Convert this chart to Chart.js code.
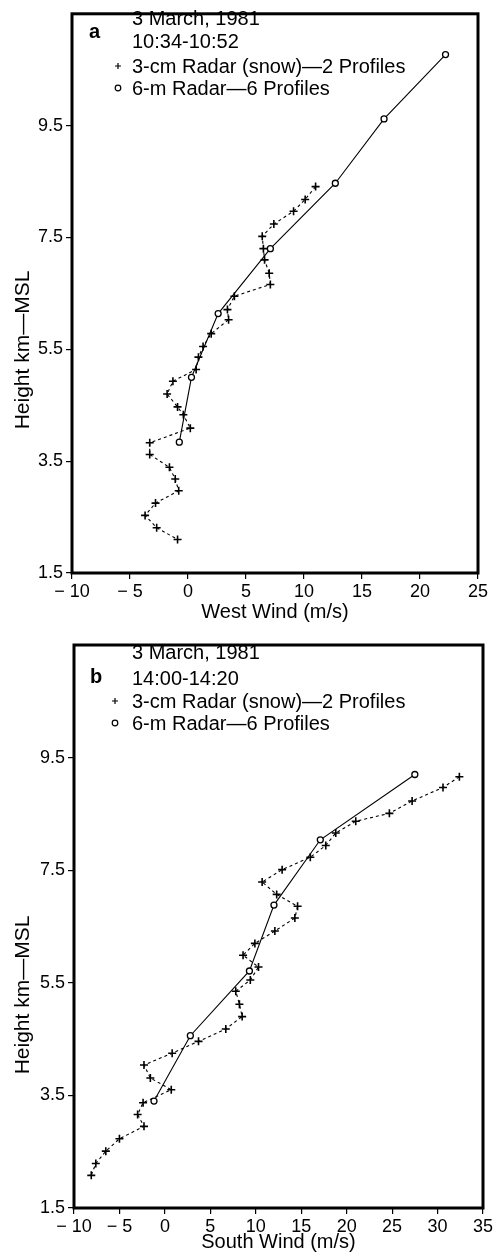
<!DOCTYPE html>
<html>
<head>
<meta charset="utf-8">
<script src="https://cdn.jsdelivr.net/npm/chart.js@4"></script>
<style>
  body { margin: 0; background: #fff; }
  canvas { position: absolute; left: 0; }
  #chartA { top: 0; }
  #chartB { top: 625px; }
</style>
</head>
<body>
<canvas id="chartA" width="496" height="625"></canvas>
<canvas id="chartB" width="496" height="630"></canvas>
<script>
// panel a - west wind, 10:34-10:52
const heightRadar3A = [8.41, 8.18, 7.97, 7.74, 7.52, 7.30, 7.10, 6.86, 6.66, 6.45, 6.21, 6.03, 5.78, 5.55, 5.36, 5.14, 4.93, 4.70, 4.47, 4.33, 4.09, 3.83, 3.62, 3.39, 3.18, 2.97, 2.75, 2.53, 2.31, 2.10];
const windRadar3A   = [11.0, 10.1, 9.1, 7.4, 6.4, 6.5, 6.6, 7.0, 7.1, 4.0, 3.4, 3.5, 2.0, 1.3, 0.9, 0.7, -1.3, -1.8, -0.9, -0.4, 0.2, -3.3, -3.3, -1.6, -1.1, -0.8, -2.8, -3.7, -2.7, -0.9];
const heightRadar6A = [10.77, 9.62, 8.47, 7.30, 6.14, 5.00, 3.84];
const windRadar6A   = [22.2, 16.9, 12.7, 7.1, 2.6, 0.3, -0.75];

// panel b - south wind, 14:00-14:20
const heightRadar3B = [9.16, 8.97, 8.73, 8.51, 8.37, 8.16, 7.94, 7.73, 7.51, 7.29, 7.07, 6.86, 6.65, 6.42, 6.20, 5.99, 5.78, 5.55, 5.35, 5.12, 4.90, 4.68, 4.46, 4.25, 4.04, 3.81, 3.60, 3.37, 3.16, 2.95, 2.73, 2.51, 2.29, 2.08];
const windRadar3B   = [32.4, 30.6, 27.2, 24.7, 21.0, 18.8, 17.7, 16.0, 12.9, 10.7, 12.3, 14.6, 14.3, 12.1, 9.9, 8.6, 10.3, 9.4, 7.8, 8.2, 8.5, 6.7, 3.7, 0.8, -2.3, -1.6, 0.7, -2.4, -3.0, -2.3, -5.0, -6.5, -7.6, -8.1];
const heightRadar6B = [9.20, 8.04, 6.88, 5.71, 4.56, 3.40];
const windRadar6B   = [27.5, 17.1, 12.0, 9.3, 2.8, -1.2];

const yTicks  = [1.5, 3.5, 5.5, 7.5, 9.5];
const xTicksA = [-10, -5, 0, 5, 10, 15, 20, 25];
const xTicksB = [-10, -5, 0, 5, 10, 15, 20, 25, 30, 35];
const seriesNames = ["3-cm Radar (snow)\u20142 Profiles", "6-m Radar\u20146 Profiles"];
const FONT = '"Liberation Sans", Arial, Helvetica, sans-serif';

function toPoints(xs, ys) {
  return xs.map((x, i) => ({ x: x, y: ys[i] }));
}

function fmtTick(v) {
  return v < 0 ? "\u2212 " + Math.abs(v) : String(v);
}

function decor(info) {
  return {
    id: "decor",
    afterDraw(chart) {
      const ctx = chart.ctx;
      const a = chart.chartArea;
      ctx.save();
      ctx.strokeStyle = "#000";
      ctx.lineWidth = 3;
      ctx.strokeRect(a.left, a.top, a.right - a.left, a.bottom - a.top);

      ctx.fillStyle = "#000";
      ctx.textAlign = "left";
      ctx.textBaseline = "alphabetic";
      ctx.font = "bold 20px " + FONT;
      ctx.fillText(info.letter, info.letterX, info.letterY);
      ctx.font = "20px " + FONT;
      ctx.fillText(info.date, 132, info.lines[0]);
      ctx.fillText(info.time, 132, info.lines[1]);
      ctx.fillText(seriesNames[0], 132, info.lines[2]);
      ctx.fillText(seriesNames[1], 132, info.lines[3]);

      // legend markers
      ctx.lineWidth = 1.2;
      const mx = info.markX;
      let my = info.lines[2] - 7;
      ctx.beginPath();
      ctx.moveTo(mx - 3, my); ctx.lineTo(mx + 3, my);
      ctx.moveTo(mx, my - 3); ctx.lineTo(mx, my + 3);
      ctx.stroke();
      my = info.lines[3] - 7;
      ctx.beginPath();
      ctx.arc(mx, my, 2.8, 0, Math.PI * 2);
      ctx.stroke();

      // y title
      ctx.translate(info.yTitleX, info.yTitleY);
      ctx.rotate(-Math.PI / 2);
      ctx.textAlign = "center";
      ctx.textBaseline = "middle";
      ctx.font = "21px " + FONT;
      ctx.fillText("Height km\u2014MSL", 0, 0);
      ctx.restore();
    }
  };
}

function makePanel(id, cfg) {
  const ctx = document.getElementById(id);
  return new Chart(ctx, {
    type: "scatter",
    data: {
      datasets: [
        {
          label: seriesNames[0],
          data: toPoints(cfg.wind3, cfg.height3),
          showLine: true,
          borderColor: "#000",
          borderWidth: 1.1,
          borderDash: [3, 3],
          pointStyle: "cross",
          pointRadius: 4,
          pointBorderWidth: 1.6,
          pointBorderColor: "#000",
          order: 2
        },
        {
          label: seriesNames[1],
          data: toPoints(cfg.wind6, cfg.height6),
          showLine: true,
          borderColor: "#000",
          borderWidth: 1.1,
          pointStyle: "circle",
          pointRadius: 3,
          pointBorderWidth: 1.3,
          pointBorderColor: "#000",
          pointBackgroundColor: "#fff",
          order: 1
        }
      ]
    },
    options: {
      responsive: false,
      animation: false,
      layout: { padding: { left: 0, right: cfg.padRight, top: cfg.padTop, bottom: 0 } },
      plugins: { legend: { display: false }, tooltip: { enabled: false } },
      scales: {
        x: {
          type: "linear",
          min: cfg.xTicks[0],
          max: cfg.xTicks[cfg.xTicks.length - 1],
          afterBuildTicks: s => { s.ticks = cfg.xTicks.map(v => ({ value: v })); },
          afterFit: s => { s.height = cfg.xHeight; },
          grid: { drawOnChartArea: false, drawTicks: true, tickLength: 6, color: "#000", lineWidth: 1.2 },
          border: { display: false },
          ticks: { color: "#000", font: { size: 18, family: FONT }, padding: 2, maxRotation: 0, callback: v => fmtTick(v) },
          title: { display: true, text: cfg.xTitle, color: "#000", font: { size: 20, family: FONT }, padding: { top: 0, bottom: 1 } }
        },
        y: {
          type: "linear",
          min: 1.5,
          max: 11.5,
          afterBuildTicks: s => { s.ticks = yTicks.map(v => ({ value: v })); },
          afterFit: s => { s.width = cfg.yWidth; },
          grid: { drawOnChartArea: false, drawTicks: true, tickLength: 6, color: "#000", lineWidth: 1.2 },
          border: { display: false },
          ticks: { color: "#000", font: { size: 18, family: FONT }, padding: 3, callback: v => v.toFixed(1) }
        }
      }
    },
    plugins: [decor(cfg.decor)]
  });
}

makePanel("chartA", {
  wind3: windRadar3A, height3: heightRadar3A,
  wind6: windRadar6A, height6: heightRadar6A,
  xTicks: xTicksA, xTitle: "West Wind (m/s)",
  padRight: 18, padTop: 8, xHeight: 52, yWidth: 72,
  decor: { letter: "a", letterX: 89, letterY: 38, date: "3 March, 1981", time: "10:34-10:52",
           lines: [25, 48, 73, 95], markX: 118, yTitleX: 23, yTitleY: 350 }
});

makePanel("chartB", {
  wind3: windRadar3B, height3: heightRadar3B,
  wind6: windRadar6B, height6: heightRadar6B,
  xTicks: xTicksB, xTitle: "South Wind (m/s)",
  padRight: 13, padTop: 20, xHeight: 47, yWidth: 74,
  decor: { letter: "b", letterX: 90, letterY: 58, date: "3 March, 1981", time: "14:00-14:20",
           lines: [34, 60, 83, 105], markX: 115, yTitleX: 23, yTitleY: 370 }
});
</script>
</body>
</html>
